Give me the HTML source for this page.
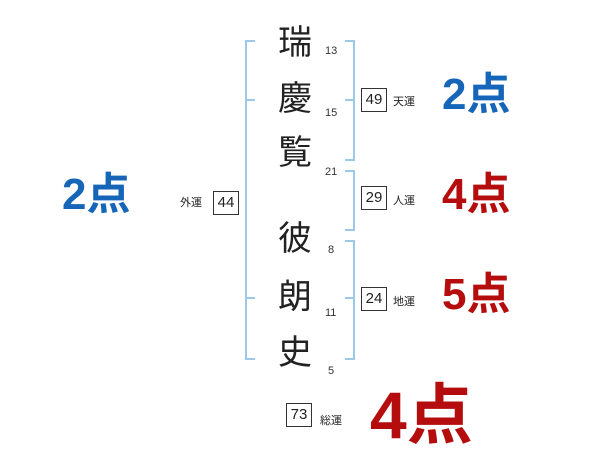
<!DOCTYPE html><html><head><meta charset="utf-8"><style>
body{margin:0;width:600px;height:470px;background:#fff;position:relative;overflow:hidden;font-family:"Liberation Sans","Noto Sans CJK JP",sans-serif}
.a{position:absolute;white-space:nowrap;line-height:1}
.k{font-size:34px;color:#222;left:278px}
.n{font-size:11px;color:#333}
.b{position:absolute;border:1px solid #333;font-size:15px;color:#222;text-align:center;box-sizing:border-box;width:26px;height:24px;line-height:22px}
.l{font-size:11px;color:#222}
.s{font-weight:bold}
.bl{background:#9cc9ea;position:absolute}
</style></head><body>
<div class="bl" style="left:245px;top:40px;width:2px;height:320px"></div>
<div class="bl" style="left:245px;top:40px;width:10px;height:2px"></div>
<div class="bl" style="left:245px;top:99px;width:10px;height:2px"></div>
<div class="bl" style="left:245px;top:297px;width:10px;height:2px"></div>
<div class="bl" style="left:245px;top:358px;width:10px;height:2px"></div>
<div class="bl" style="left:353px;top:40px;width:2px;height:120px"></div>
<div class="bl" style="left:345px;top:40px;width:10px;height:2px"></div>
<div class="bl" style="left:345px;top:99px;width:10px;height:2px"></div>
<div class="bl" style="left:345px;top:159px;width:10px;height:2px"></div>
<div class="bl" style="left:353px;top:170px;width:2px;height:60px"></div>
<div class="bl" style="left:345px;top:170px;width:10px;height:2px"></div>
<div class="bl" style="left:345px;top:229px;width:10px;height:2px"></div>
<div class="bl" style="left:353px;top:240px;width:2px;height:120px"></div>
<div class="bl" style="left:345px;top:240px;width:10px;height:2px"></div>
<div class="bl" style="left:345px;top:297px;width:10px;height:2px"></div>
<div class="bl" style="left:345px;top:358px;width:10px;height:2px"></div>
<div class="a k" style="top:26px">瑞</div><div class="a n" style="left:325px;top:46px">13</div>
<div class="a k" style="top:82px">慶</div><div class="a n" style="left:325px;top:108px">15</div>
<div class="a k" style="top:136px">覧</div><div class="a n" style="left:325px;top:167px">21</div>
<div class="a k" style="top:222px">彼</div><div class="a n" style="left:328px;top:245px">8</div>
<div class="a k" style="top:280px">朗</div><div class="a n" style="left:325px;top:308px">11</div>
<div class="a k" style="top:336px">史</div><div class="a n" style="left:328px;top:366px">5</div>
<div class="b" style="left:213px;top:191px">44</div><div class="a l" style="left:180px;top:198px">外運</div>
<div class="b" style="left:361px;top:88px">49</div><div class="a l" style="left:393px;top:97px">天運</div>
<div class="b" style="left:361px;top:186px">29</div><div class="a l" style="left:393px;top:196px">人運</div>
<div class="b" style="left:361px;top:287px">24</div><div class="a l" style="left:393px;top:297px">地運</div>
<div class="b" style="left:286px;top:403px">73</div><div class="a l" style="left:320px;top:416px">総運</div>
<div class="a s" style="left:62px;top:173px;font-size:44px;color:#1565b8">2点</div>
<div class="a s" style="left:442px;top:73px;font-size:44px;color:#1565b8">2点</div>
<div class="a s" style="left:442px;top:173px;font-size:44px;color:#b50d0d">4点</div>
<div class="a s" style="left:442px;top:273px;font-size:44px;color:#b50d0d">5点</div>
<div class="a s" style="left:370px;top:382px;font-size:66px;color:#b50d0d">4点</div>
</body></html>
